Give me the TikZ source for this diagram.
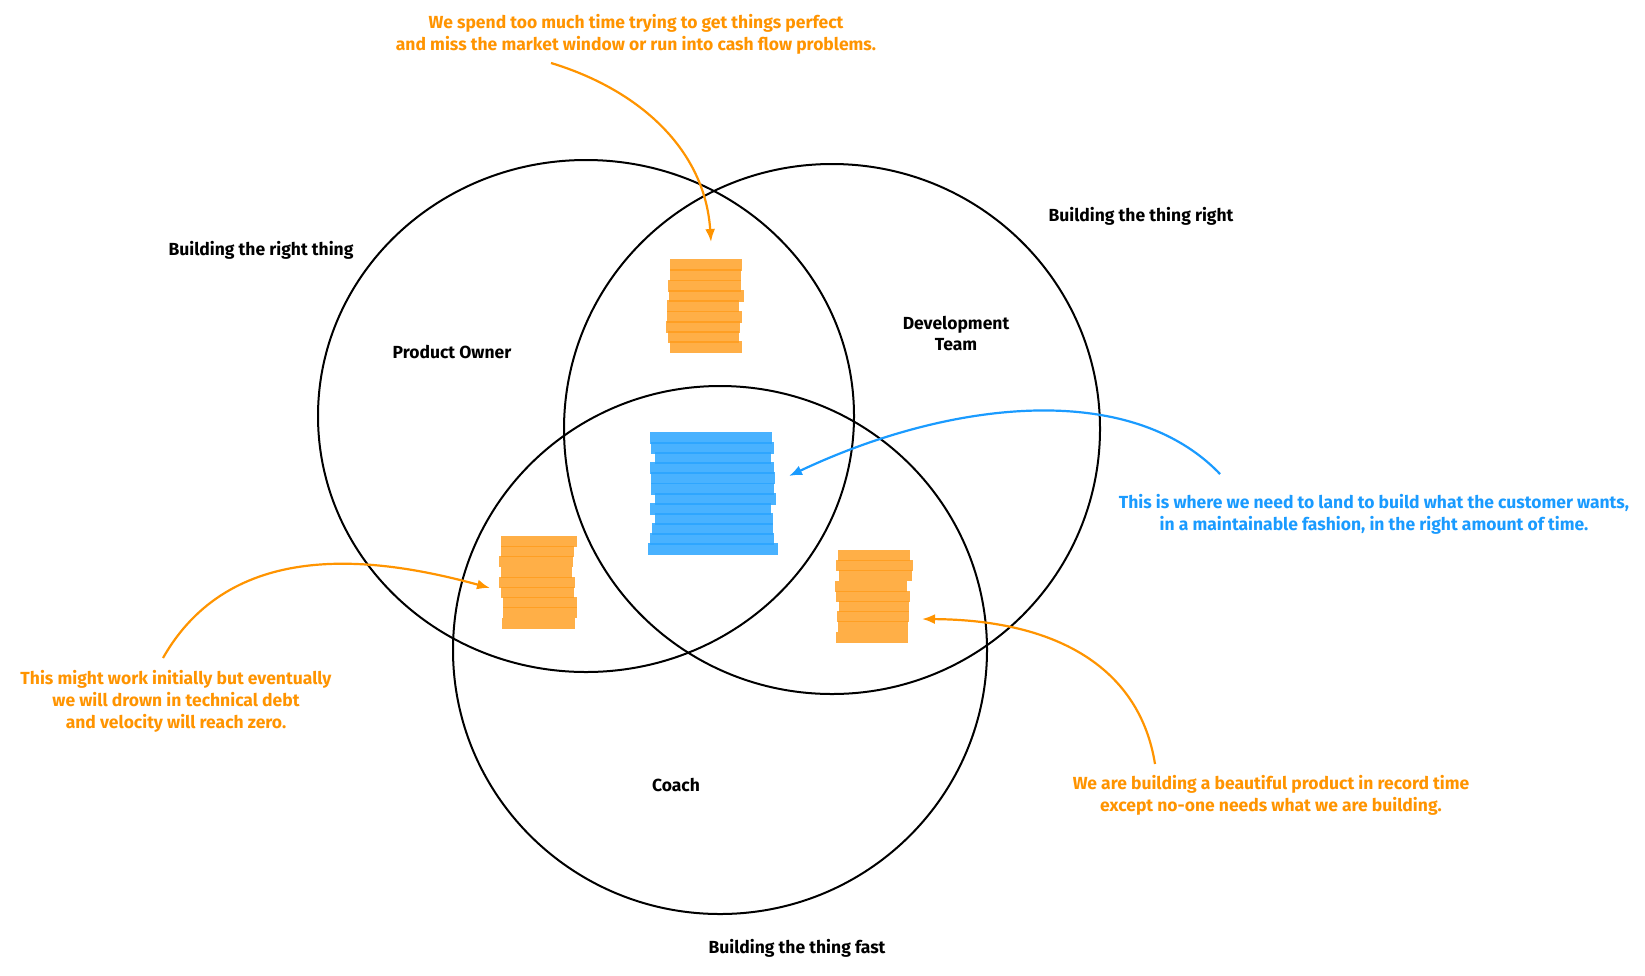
\documentclass[tikz,border=0pt]{standalone}
\usepackage{fontspec}
\setmainfont{Fira Sans}
\usetikzlibrary{arrows.meta}
\definecolor{orangeT}{HTML}{FF9400}
\definecolor{orangeS}{HTML}{FF9C1A}
\definecolor{blueT}{HTML}{1A9BFF}
\definecolor{blueS}{HTML}{2AA5FF}
\tikzset{
  ring/.style={draw=black, line width=2pt},
  lbl/.style={font=\bfseries\fontsize{17.5}{21}\selectfont, text=black, align=center, inner sep=0pt},
  olbl/.style={font=\bfseries\fontsize{17.5}{22}\selectfont, text=orangeT, align=center, inner sep=0pt},
  blbl/.style={font=\bfseries\fontsize{17.5}{22}\selectfont, text=blueT, align=center, inner sep=0pt},
  oarrow/.style={draw=orangeT, line width=2.2pt, -{Latex[length=13pt,width=10pt]}},
  barrow/.style={draw=blueT, line width=2.2pt, -{Latex[length=13pt,width=10pt]}},
  obar/.style={fill=orangeS, fill opacity=0.8},
  bbar/.style={fill=blueS, fill opacity=0.85},
}
\begin{document}
\begin{tikzpicture}[x=1pt,y=-1pt]
\useasboundingbox (0,0) rectangle (1645,975);
\fill[white] (0,0) rectangle (1645,975);

% circles
\draw[ring] (586,416) ellipse [x radius=268, y radius=256];
\draw[ring] (832,429) ellipse [x radius=268, y radius=265];
\draw[ring] (720,650) ellipse [x radius=267, y radius=264];

% top orange stack
\foreach \a/\b [count=\i] in {670/742,670/741,668/741,669/744,667/739,667/742,666/740,668/739,670/742}
  \fill[obar] (\a,{259+(\i-1)*10.3}) rectangle (\b,{259+(\i-1)*10.3+12});
% blue stack
\foreach \a/\b [count=\i] in {650/772,651/774,655/771,650/774,651/775,651/774,655/776,650/771,655/773,652/773,650/774,648/778}
  \fill[bbar] (\a,{432+(\i-1)*10.1}) rectangle (\b,{432+(\i-1)*10.1+12});
% left orange stack
\foreach \a/\b [count=\i] in {501/577,501/574,499/573,501/572,499/575,501/574,503/577,503/577,502/575}
  \fill[obar] (\a,{536+(\i-1)*10.2}) rectangle (\b,{536+(\i-1)*10.2+11});
% right orange stack
\foreach \a/\b [count=\i] in {838/910,836/913,839/912,835/907,836/910,839/909,837/909,838/908,836/908}
  \fill[obar] (\a,{550+(\i-1)*10.2}) rectangle (\b,{550+(\i-1)*10.2+11});

% labels
\node[lbl] (brt) at (261,250) {Building the right thing};
\node[lbl] (btr) at (1141,216) {Building the thing right};
\node[lbl] (po) at (452,352) {Product Owner};
\node[lbl] (dt) at (956,333) {Development\\Team};
\node[lbl] (co) at (676,785) {Coach};
\node[lbl] (btf) at (797,948) {Building the thing fast};

\node[olbl] (t1) at (636,34) {We spend too much time trying to get things perfect\\and miss the market window or run into cash flow problems.};
\node[blbl] (t2) at (1374,514) {This is where we need to land to build what the customer wants,\\in a maintainable fashion, in the right amount of time.};
\node[olbl] (t3) at (176,701) {This might work initially but eventually\\we will drown in technical debt\\and velocity will reach zero.};
\node[olbl] (t4) at (1271,795) {We are building a beautiful product in record time\\except no-one needs what we are building.};

\coordinate (a1s) at (551,63);
\coordinate (a1e) at (711,242);
\coordinate (a2s) at (1220,474);
\coordinate (a2e) at (789,476);
\coordinate (a3s) at (163,658);
\coordinate (a3e) at (490,588);
\coordinate (a4s) at (1155,764);
\coordinate (a4e) at (922,619);

\draw[oarrow] (a1s) .. controls (640,90) and (705,150) .. (a1e);
\draw[barrow] (a2s) .. controls (1130,380) and (950,400) .. (a2e);
\draw[oarrow] (a3s) .. controls (230,540) and (370,555) .. (a3e);
\draw[oarrow] (a4s) .. controls (1140,670) and (1060,620) .. (a4e);
\end{tikzpicture}
\end{document}
